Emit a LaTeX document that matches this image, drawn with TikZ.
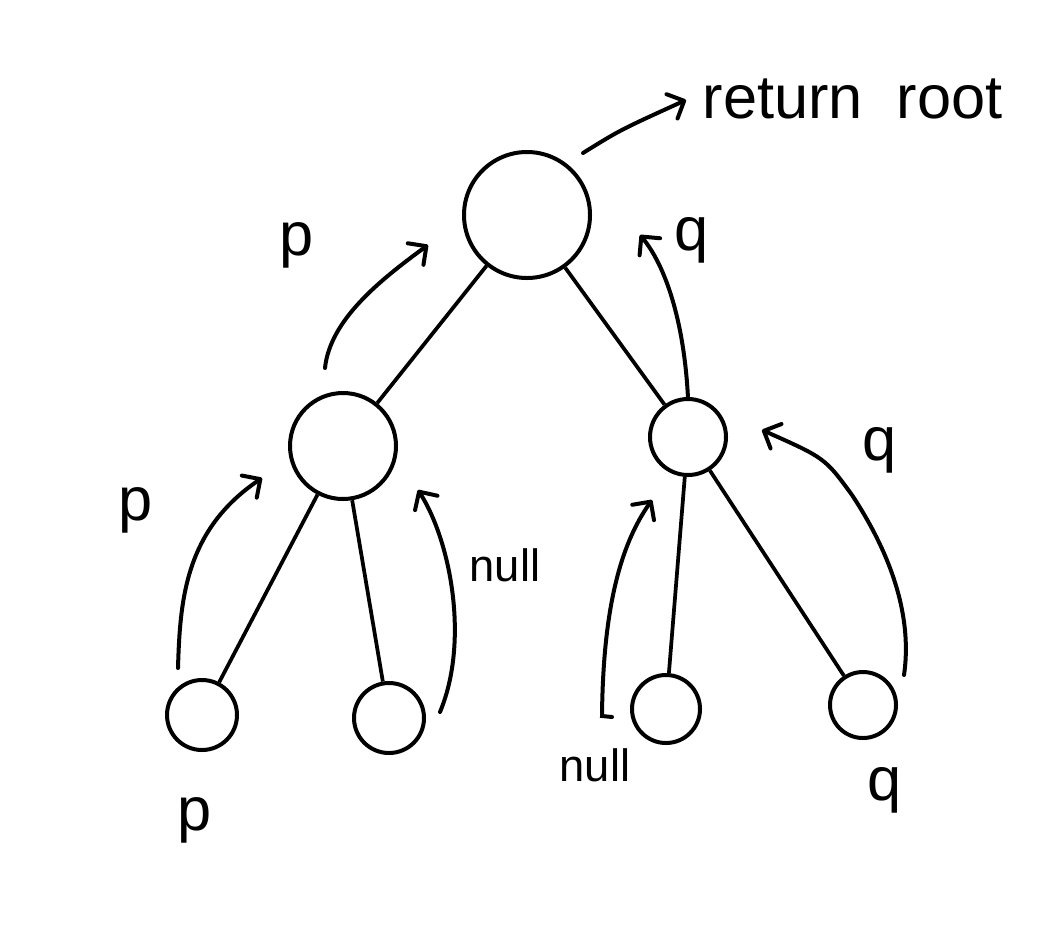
\documentclass[tikz,border=0pt]{standalone}
\usepackage{fontspec}
\setmainfont{Liberation Sans}
\usetikzlibrary{arrows.meta}
\begin{document}
\begin{tikzpicture}[x=0.75pt,y=-0.75pt,
  treenode/.style={circle,draw,line width=3pt,inner sep=0pt},
  edge/.style={line width=2.8pt},
  ret/.style={line width=3pt,line cap=round,-{Straight Barb[length=10pt,width=20pt,line width=3pt,round]}},
  lbl/.style={font=\fontsize{46}{50}\selectfont},
  small/.style={font=\fontsize{34}{38}\selectfont}]
\useasboundingbox (0,0) rectangle (1037,950);
% nodes
\node[treenode,minimum size=94.5pt] (root) at (527,215) {};
\node[treenode,minimum size=79.5pt] (lm) at (343,446) {};
\node[treenode,minimum size=57pt] (rm) at (688,437) {};
\node[treenode,minimum size=52.5pt] (ll) at (202,715) {};
\node[treenode,minimum size=52.5pt] (lr) at (389,718) {};
\node[treenode,minimum size=51pt] (rl) at (666,709) {};
\node[treenode,minimum size=49.5pt] (rr) at (863,705) {};
% edges
\draw[edge] (root) -- (lm);
\draw[edge] (root) -- (rm);
\draw[edge] (lm) -- (ll);
\draw[edge] (lm) -- (lr);
\draw[edge] (rm) -- (rl);
\draw[edge] (rm) -- (rr);
% return arrows
\draw[ret] (583,153) .. controls (620,130) .. (686,100);
\draw[ret] (325,368) .. controls (330,320) and (380,280) .. (428,245);
\draw[ret] (688,398) .. controls (684,320) and (665,265) .. (640,235);
\draw[ret] (178,668) .. controls (180,600) and (185,530) .. (262,478);
\draw[ret] (440,712) .. controls (470,640) and (450,540) .. (418,490);
\draw[ret] (612,717) -- (602,716) .. controls (603,610) and (620,545) .. (652,500);
\draw[ret] (904,675) .. controls (915,600) and (875,530) .. (852,495) .. controls (825,458) .. (762,430);
% labels
\node[font=\fontsize{46}{50}\selectfont,anchor=base west] (rt) at (698,118) {return\ \ root};
\node[lbl] (p1) at (297,245) {p};
\node[lbl] (q1) at (692,240) {q};
\node[lbl] (p2) at (136,510) {p};
\node[small] (n1) at (505,565) {null};
\node[lbl] (q2) at (880,450) {q};
\node[small] (n2) at (595,765) {null};
\node[lbl] (p3) at (195,820) {p};
\node[lbl] (q3) at (885,790) {q};
\end{tikzpicture}
\end{document}
